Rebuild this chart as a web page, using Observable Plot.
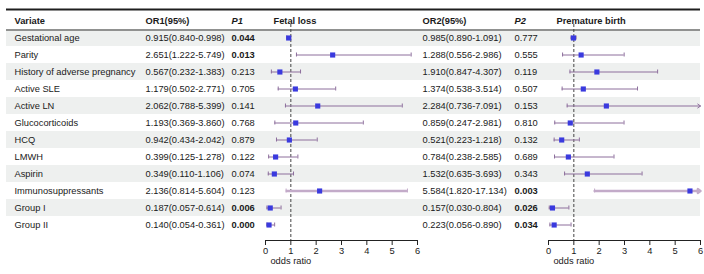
<!DOCTYPE html>
<html><head><meta charset="utf-8">
<script src="https://cdn.jsdelivr.net/npm/d3@7"></script>
<script src="https://cdn.jsdelivr.net/npm/@observablehq/plot@0.6"></script>
<style>
body{margin:0;background:#fff;}
#wrap{position:relative;width:704px;height:274px;background:#fff;}
#wrap svg{position:absolute;left:0;top:0;}
</style></head><body><div id="wrap"></div>
<script>
const variates = ["Gestational age","Parity","History of adverse pregnancy","Active SLE","Active LN","Glucocorticoids","HCQ","LMWH","Aspirin","Immunosuppressants","Group I","Group II"];
const or1 = [0.915, 2.651, 0.567, 1.179, 2.062, 1.193, 0.942, 0.399, 0.349, 2.136, 0.187, 0.140];
const lo1 = [0.840, 1.222, 0.232, 0.502, 0.788, 0.369, 0.434, 0.125, 0.110, 0.814, 0.057, 0.054];
const hi1 = [0.998, 5.749, 1.383, 2.771, 5.399, 3.860, 2.042, 1.278, 1.106, 5.604, 0.614, 0.361];
const p1  = ["0.044","0.013","0.213","0.705","0.141","0.768","0.879","0.122","0.074","0.123","0.006","0.000"];
const or2 = [0.985, 1.288, 1.910, 1.374, 2.284, 0.859, 0.521, 0.784, 1.532, 5.584, 0.157, 0.223];
const lo2 = [0.890, 0.556, 0.847, 0.538, 0.736, 0.247, 0.223, 0.238, 0.635, 1.820, 0.030, 0.056];
const hi2 = [1.091, 2.986, 4.307, 3.514, 7.091, 2.981, 1.218, 2.585, 3.693, 17.134, 0.804, 0.890];
const p2  = ["0.777","0.555","0.119","0.507","0.153","0.810","0.132","0.689","0.343","0.003","0.026","0.034"];
const headers = ["Variate","OR1(95%)","P1","Fetal loss","OR2(95%)","P2","Premature birth"];
const ticks = [0,1,2,3,4,5,6];
const axisLabel = "odds ratio";

const W = 704, H = 274;
const FONT = "'Liberation Sans', Arial, sans-serif";
const FS = "9.3px";
const TXT = "#1a1a1a";
const HEAD = "__header";
const yDomain = [HEAD, ...variates];
const common = {
  width: W, height: H, marginTop: 6.1, marginBottom: 34, insetBottom: 1,
  style: {fontFamily: FONT, fontSize: FS, color: TXT, background: "transparent", overflow: "visible"}
};
const yScale = {type: "band", domain: yDomain, padding: 0, axis: null};

const f3 = v => v.toFixed(3);
const rows = variates.map((v, i) => ({
  variate: v, i,
  or1: or1[i], lo1: lo1[i], hi1: hi1[i], p1: p1[i],
  or2: or2[i], lo2: lo2[i], hi2: hi2[i], p2: p2[i],
  t1: `${f3(or1[i])}(${f3(lo1[i])}-${f3(hi1[i])})`,
  t2: `${f3(or2[i])}(${f3(lo2[i])}-${f3(hi2[i])})`
}));

// column layout (pixels)
const colX = {Variate: 14, OR1: 145, P1: 231, FL: 273, OR2: 422, P2: 514, PB: 556};
const L = 6, R = 700;

const isSig = p => +p < 0.05;

const table = Plot.plot({
  ...common, marginLeft: 0, marginRight: 0,
  x: {type: "identity", axis: null},
  y: yScale,
  marks: [
    Plot.barX(rows.filter(d => d.i % 2 === 0), {x1: L, x2: R, y: "variate", fill: "#eef0ef"}),
    Plot.ruleY([HEAD], {y: d => d, x1: L, x2: R, dy: -11.5, stroke: "#1e1e1e", strokeWidth: 2}),
    Plot.ruleY([HEAD], {y: d => d, x1: L, x2: R, dy: 9, stroke: "#333", strokeWidth: 1.2}),
    // headers
    Plot.text([headers[0]], {x: colX.Variate, y: () => HEAD, text: d => d, textAnchor: "start", fontWeight: "bold", fill: TXT}),
    Plot.text([headers[1]], {x: colX.OR1, y: () => HEAD, text: d => d, textAnchor: "start", fontWeight: "bold", fill: TXT}),
    Plot.text([headers[2]], {x: colX.P1, y: () => HEAD, text: d => d, textAnchor: "start", fontWeight: "bold", fontStyle: "italic", fill: TXT}),
    Plot.text([headers[3]], {x: colX.FL, y: () => HEAD, text: d => d, textAnchor: "start", fontWeight: "bold", fill: TXT}),
    Plot.text([headers[4]], {x: colX.OR2, y: () => HEAD, text: d => d, textAnchor: "start", fontWeight: "bold", fill: TXT}),
    Plot.text([headers[5]], {x: colX.P2, y: () => HEAD, text: d => d, textAnchor: "start", fontWeight: "bold", fontStyle: "italic", fill: TXT}),
    Plot.text([headers[6]], {x: colX.PB, y: () => HEAD, text: d => d, textAnchor: "start", fontWeight: "bold", fill: TXT}),
    // body
    Plot.text(rows, {x: colX.Variate, y: "variate", text: "variate", textAnchor: "start", fill: TXT}),
    Plot.text(rows, {x: colX.OR1, y: "variate", text: "t1", textAnchor: "start", fill: TXT}),
    Plot.text(rows.filter(d => !isSig(d.p1)), {x: colX.P1, y: "variate", text: "p1", textAnchor: "start", fill: TXT}),
    Plot.text(rows.filter(d => isSig(d.p1)), {x: colX.P1, y: "variate", text: "p1", textAnchor: "start", fontWeight: "bold", fill: TXT}),
    Plot.text(rows, {x: colX.OR2, y: "variate", text: "t2", textAnchor: "start", fill: TXT}),
    Plot.text(rows.filter(d => !isSig(d.p2)), {x: colX.P2, y: "variate", text: "p2", textAnchor: "start", fill: TXT}),
    Plot.text(rows.filter(d => isSig(d.p2)), {x: colX.P2, y: "variate", text: "p2", textAnchor: "start", fontWeight: "bold", fill: TXT})
  ]
});

const LINE = "#8d6e9c", LINE_HL = "#c3abc9", SQ = "#3a3ade";
const XMAX = ticks[ticks.length - 1];

function forest(key, left, right) {
  const o = "or" + key, lo = "lo" + key, hi = "hi" + key;
  const hl = d => d.variate === "Immunosuppressants";
  const normal = rows.filter(d => !hl(d)), special = rows.filter(hl);
  const ciMarks = (data, stroke, sw) => [
    Plot.ruleY(data.filter(d => d[hi] <= XMAX), {y: "variate", x1: lo, x2: hi, stroke, strokeWidth: sw}),
    Plot.arrow(data.filter(d => d[hi] > XMAX), {x1: lo, x2: () => XMAX, y1: "variate", y2: "variate", stroke, strokeWidth: sw, headLength: 5 / sw, headAngle: 70}),
    Plot.tickX(data, {x: lo, y: "variate", insetTop: 6.5, insetBottom: 6.5, stroke, strokeWidth: 1}),
    Plot.tickX(data.filter(d => d[hi] <= XMAX), {x: hi, y: "variate", insetTop: 6.5, insetBottom: 6.5, stroke, strokeWidth: 1})
  ];
  return Plot.plot({
    ...common, marginLeft: left, marginRight: W - right,
    x: {domain: [0, XMAX], nice: false},
    y: yScale,
    marks: [
      Plot.ruleX([1], {stroke: "#444", strokeDasharray: "3,2", insetTop: 17.9}),
      ...ciMarks(normal, LINE, 1),
      ...ciMarks(special, LINE_HL, 2.4),
      Plot.dot(rows, {x: o, y: "variate", symbol: "square", r: 2.9, fill: SQ}),
      Plot.frame({anchor: "bottom", stroke: "#222"}),
      Plot.axisX({anchor: "bottom", ticks, tickSize: 5, tickPadding: 2, tickFormat: d => String(d), label: null, fill: TXT, stroke: "#222"}),
      Plot.text([axisLabel], {x: () => 1, frameAnchor: "bottom", dy: 23, text: d => d, fill: TXT})
    ]
  });
}

const wrap = document.getElementById("wrap");
wrap.appendChild(table);
wrap.appendChild(forest("1", 265, 417));
wrap.appendChild(forest("2", 548, 700));
</script></body></html>
